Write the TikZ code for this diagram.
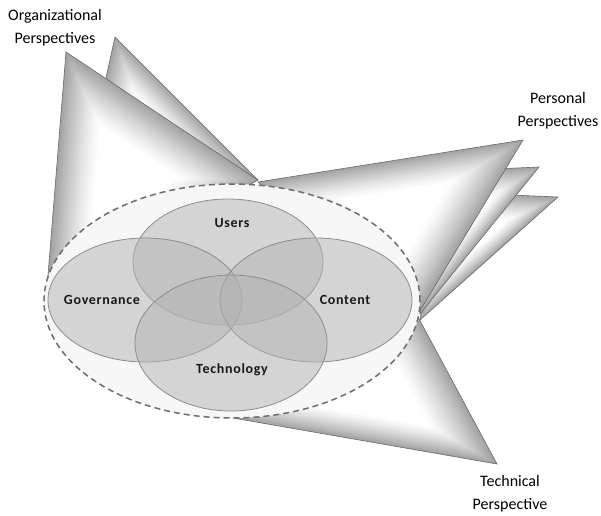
\documentclass[tikz,border=0pt]{standalone}
\usepackage{fontspec}
\setmainfont{Carlito}
\newfontfamily\vennfont[LetterSpace=5]{Carlito}
\usetikzlibrary{calc,shapes.geometric}
\definecolor{edgegray}{HTML}{6A6A6A}
\definecolor{vennfill}{HTML}{B3B3B3}
\definecolor{vennline}{HTML}{8C8C8C}
\definecolor{dashcol}{HTML}{6E6E6E}
\definecolor{innerbg}{HTML}{F7F7F7}
\tikzset{
  conedge/.style={draw=edgegray, line width=0.6pt, line join=miter},
  venn/.style={ellipse, draw=vennline, line width=0.8pt, fill=vennfill, fill opacity=0.5},
  vlabel/.style={font=\vennfont\bfseries\fontsize{14}{16}\selectfont, text=black!90},
  olabel/.style={font=\fontsize{16}{23}\selectfont, align=center, text=black},
  outer/.style={ellipse, draw=dashcol, dashed, dash pattern=on 6pt off 4pt, line width=1.5pt, fill=innerbg}
}
\newcommand{\conefill}[3]{%
  \coordinate (G) at (barycentric cs:#1=1,#2=1,#3=1);
  \foreach \i in {0,...,30}{
    \pgfmathsetmacro\f{1-\i*0.02}
    \pgfmathsetmacro\c{36*(1-\i/30)^1.3}
    \fill[black!\c] ($(G)!\f!(#1)$) -- ($(G)!\f!(#2)$) -- ($(G)!\f!(#3)$) -- cycle;
  }
  \draw[conedge] (#1)--(#2)--(#3)--cycle;
}
\begin{document}
\begin{tikzpicture}[x=1pt,y=-1pt]
\useasboundingbox (0,0) rectangle (601,515);
% Organizational cones
\coordinate (ob1) at (115,37);
\coordinate (ob2) at (258,180);
\coordinate (ob3) at (79,200);
\conefill{ob1}{ob2}{ob3}
\coordinate (of1) at (66,52);
\coordinate (of2) at (258,180);
\coordinate (of3) at (46,300);
\conefill{of1}{of2}{of3}
% Personal cones
\coordinate (pb1) at (440,192);
\coordinate (pb2) at (558,197);
\coordinate (pb3) at (420,320);
\conefill{pb1}{pb2}{pb3}
\coordinate (pm1) at (425,172);
\coordinate (pm2) at (539,167);
\coordinate (pm3) at (420,314);
\conefill{pm1}{pm2}{pm3}
\coordinate (pf1) at (258,182);
\coordinate (pf2) at (523,140);
\coordinate (pf3) at (418,314);
\conefill{pf1}{pf2}{pf3}
% Technical cone
\coordinate (t1) at (418,317);
\coordinate (t2) at (497,464);
\coordinate (t3) at (233,418);
\conefill{t1}{t2}{t3}
% Outer dashed ellipse
\node[outer, minimum width=376pt, minimum height=234pt, inner sep=0pt] (frame) at (232,301) {};
% Venn ellipses
\node[venn, minimum width=190pt, minimum height=126pt, inner sep=0pt] (users) at (228,262) {};
\node[venn, minimum width=194pt, minimum height=124pt, inner sep=0pt] (gov) at (145,300) {};
\node[venn, minimum width=192pt, minimum height=124pt, inner sep=0pt] (content) at (316,300) {};
\node[venn, minimum width=192pt, minimum height=136pt, inner sep=0pt] (tech) at (231,343) {};
% Venn labels
\node[vlabel] (usersT) at (232,223) {Users};
\node[vlabel] (govT) at (102,300) {Governance};
\node[vlabel] (contentT) at (345,300) {Content};
\node[vlabel] (techT) at (232,370) {Technology};
% Outer labels
\node[olabel] (orgT) at (55,28) {Organizational\\Perspectives};
\node[olabel] (persT) at (558,111) {Personal\\Perspectives};
\node[olabel] (techPT) at (510,494) {Technical\\Perspective};
\end{tikzpicture}
\end{document}
